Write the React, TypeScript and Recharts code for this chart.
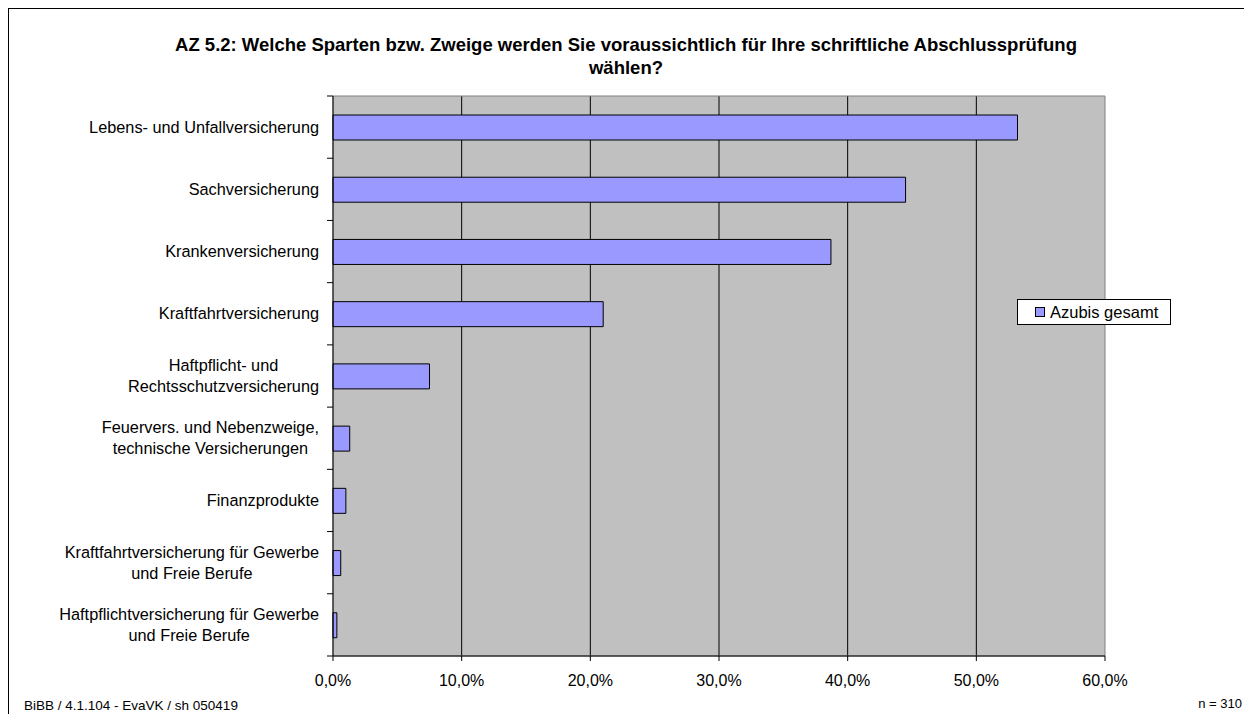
import React from 'react';
import { BarChart, Bar, XAxis, YAxis, CartesianGrid, ReferenceArea, Legend } from 'recharts';

const categories = [
  'Lebens- und Unfallversicherung',
  'Sachversicherung',
  'Krankenversicherung',
  'Kraftfahrtversicherung',
  'Haftpflicht- und\nRechtsschutzversicherung',
  'Feuervers. und Nebenzweige,\ntechnische Versicherungen',
  'Finanzprodukte',
  'Kraftfahrtversicherung für Gewerbe\nund Freie Berufe',
  'Haftpflichtversicherung für Gewerbe\nund Freie Berufe',
];
const azubisGesamt = [53.2, 44.5, 38.7, 21.0, 7.5, 1.3, 1.0, 0.6, 0.3];
const seriesName = 'Azubis gesamt';
const xTicks = [0, 10, 20, 30, 40, 50, 60];
const gridValues = xTicks.slice(1, -1);
const titleLines = [
  'AZ 5.2: Welche Sparten bzw. Zweige werden Sie voraussichtlich für Ihre schriftliche Abschlussprüfung',
  'wählen?',
];
const footerLeft = 'BiBB / 4.1.104 - EvaVK / sh 050419';
const footerRight = 'n = 310';

const data = categories.map((name, i) => ({ name, value: azubisGesamt[i] }));

const FONT_FAMILY = "'Liberation Sans', Arial, sans-serif";
const LABEL_SIZE = 16.3;
const LABEL_FONT = `${LABEL_SIZE}px ${FONT_FAMILY}`;
const W = 1252;
const H = 722;
const MARGIN = { top: 96, right: 147, bottom: 36, left: 0 };
const Y_AXIS_W = 333;
const PLOT_H = H - MARGIN.top - MARGIN.bottom - 30;
const LABEL_RIGHT = 319;
const LINE_H = 21;

let ctx: CanvasRenderingContext2D | null = null;
function textWidth(s: string, font: string): number {
  if (!ctx) ctx = document.createElement('canvas').getContext('2d');
  if (!ctx) return s.length * 8;
  ctx.font = font;
  return ctx.measureText(s).width;
}

const fmt = (v: number) => v.toFixed(1).replace('.', ',') + '%';

const CategoryTick = (props: any) => {
  const { y, payload } = props;
  const index = props.index ?? payload.index ?? 0;
  const half = payload.offset ?? PLOT_H / categories.length / 2;
  const lines = String(payload.value).split('\n');
  const maxW = Math.max(...lines.map((l) => textWidth(l, LABEL_FONT)));
  const cx = LABEL_RIGHT - maxW / 2;
  const n = lines.length;
  const axisX = Y_AXIS_W + MARGIN.left;
  return (
    <g>
      <line x1={axisX - 6} x2={axisX} y1={y - half} y2={y - half} stroke="#000" />
      {index === categories.length - 1 && (
        <line x1={axisX - 6} x2={axisX} y1={y + half} y2={y + half} stroke="#000" />
      )}
      {lines.map((l, i) => (
        <text
          key={i}
          x={cx}
          y={y + (i - (n - 1) / 2) * LINE_H}
          dy="0.35em"
          textAnchor="middle"
          fontSize={LABEL_SIZE}
          fontFamily={FONT_FAMILY}
          fill="#000"
        >
          {l}
        </text>
      ))}
    </g>
  );
};

const LegendContent = () => (
  <div
    style={{
      boxSizing: 'border-box',
      width: 154,
      height: 26,
      border: '1px solid #000',
      background: '#fff',
      display: 'flex',
      alignItems: 'center',
      paddingLeft: 17,
      fontFamily: FONT_FAMILY,
      fontSize: 16.5,
      color: '#000',
    }}
  >
    <span
      style={{
        display: 'inline-block',
        boxSizing: 'border-box',
        width: 10,
        height: 10,
        background: '#9999FF',
        border: '1px solid #000',
        marginRight: 5,
      }}
    />
    <span>{seriesName}</span>
  </div>
);

export default function App() {
  return (
    <div
      style={{
        position: 'relative',
        width: W,
        height: H,
        margin: -8,
        overflow: 'hidden',
        background: '#fff',
        fontFamily: FONT_FAMILY,
      }}
    >
      <div
        style={{
          position: 'absolute',
          left: 7,
          top: 7,
          width: 1236,
          height: 760,
          border: '2px solid #000',
        }}
      />
      <div
        style={{
          position: 'absolute',
          left: 0,
          top: 33,
          width: W,
          textAlign: 'center',
          fontWeight: 'bold',
          fontSize: 18.5,
          lineHeight: '23px',
          color: '#000',
        }}
      >
        {titleLines.map((t, i) => (
          <div key={i}>{t}</div>
        ))}
      </div>
      <div style={{ position: 'absolute', left: 0, top: 0 }}>
        <BarChart width={W} height={H} data={data} layout="vertical" margin={MARGIN}>
          <CartesianGrid
            fill="#C0C0C0"
            horizontal={false}
            vertical={true}
            verticalValues={gridValues}
            stroke="#000"
          />
          <ReferenceArea x1={0} x2={60} fill="none" stroke="#808080" strokeWidth={1} />
          <XAxis
            type="number"
            domain={[0, 60]}
            ticks={xTicks}
            tickFormatter={fmt}
            tickSize={5}
            tickMargin={14}
            height={30}
            axisLine={{ stroke: '#000' }}
            tickLine={{ stroke: '#000' }}
            tick={{ fontSize: 16, fill: '#000', fontFamily: FONT_FAMILY }}
            interval={0}
          />
          <YAxis
            type="category"
            dataKey="name"
            width={Y_AXIS_W}
            tick={<CategoryTick />}
            tickLine={false}
            axisLine={{ stroke: '#000' }}
            interval={0}
          />
          <Legend
            layout="vertical"
            align="center"
            verticalAlign="middle"
            content={<LegendContent />}
            wrapperStyle={{ left: 1017, top: 299, width: 154, height: 26 }}
          />
          <Bar
            dataKey="value"
            name={seriesName}
            fill="#9999FF"
            stroke="#000"
            strokeWidth={1}
            barSize={25}
            isAnimationActive={false}
          />
        </BarChart>
      </div>
      <div
        style={{
          position: 'absolute',
          left: 24,
          top: 698,
          fontSize: 13.5,
          lineHeight: '15px',
          color: '#000',
          whiteSpace: 'nowrap',
        }}
      >
        {footerLeft}
      </div>
      <div
        style={{
          position: 'absolute',
          right: 1252 - 1242,
          top: 696,
          fontSize: 13,
          lineHeight: '15px',
          color: '#000',
          whiteSpace: 'nowrap',
        }}
      >
        {footerRight}
      </div>
    </div>
  );
}
